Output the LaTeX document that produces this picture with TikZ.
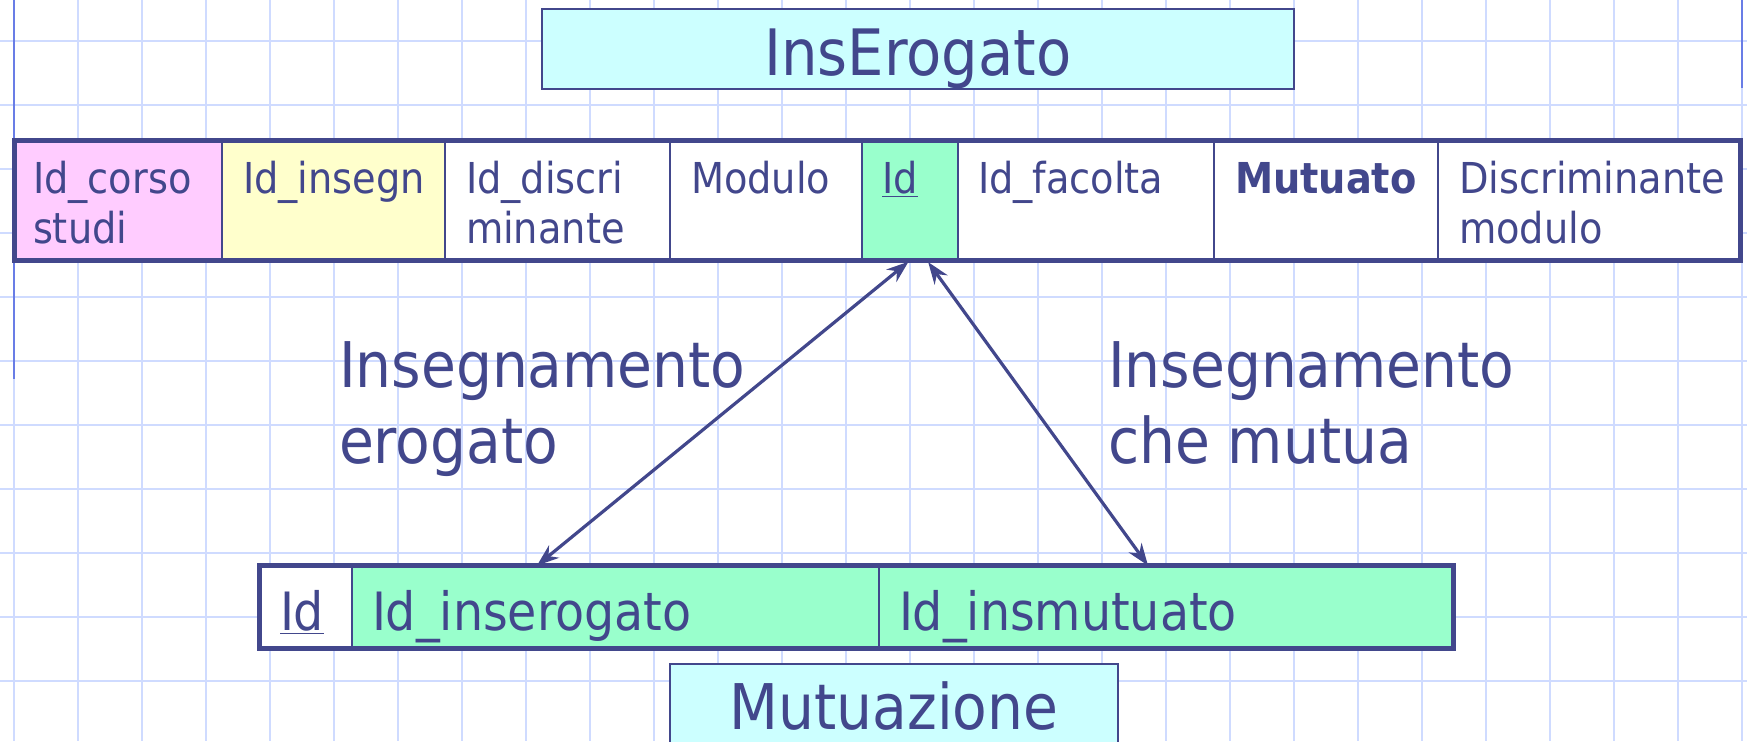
\documentclass[tikz,border=0pt]{standalone}
\usepackage{fontspec}
\setmainfont{DejaVu Sans Condensed}
\usetikzlibrary{fit,arrows.meta}
\definecolor{ink}{RGB}{66,71,140}
\definecolor{gridc}{RGB}{207,219,255}
\definecolor{edgeblue}{RGB}{105,125,230}
\definecolor{cyanfill}{RGB}{204,255,255}
\definecolor{pinkfill}{RGB}{255,204,255}
\definecolor{yellowfill}{RGB}{255,255,204}
\definecolor{greenfill}{RGB}{153,255,204}
\tikzset{
  gridline/.style={gridc, line width=1pt},
  edgeline/.style={edgeblue, line width=1pt},
  cellbox/.style={draw=ink, line width=1.25pt, inner sep=0pt, outer sep=0pt},
  outerbox/.style={draw=ink, line width=2.5pt, inner sep=0pt, outer sep=0pt},
  titlebox/.style={draw=ink, line width=1.25pt, fill=cyanfill, inner sep=0pt, outer sep=0pt},
  celltext/.style={text=ink, inner sep=0pt, outer sep=0pt, anchor=base west, align=left, font=\fontsize{21.3}{25}\selectfont},
  rowtext/.style={text=ink, inner sep=0pt, outer sep=0pt, anchor=base west, font=\fontsize{26.4}{30}\selectfont},
  titletext/.style={text=ink, inner sep=0pt, outer sep=0pt, anchor=base, font=\fontsize{32}{38}\selectfont},
  biglabel/.style={text=ink, inner sep=0pt, outer sep=0pt, anchor=base west, align=left, font=\fontsize{31.5}{38}\selectfont},
  conn/.style={draw=ink, line width=1.6pt, {Stealth[length=11pt,width=8pt]}-{Stealth[length=11pt,width=8pt]}}
}
\begin{document}
\begin{tikzpicture}[x=0.5pt,y=-0.5pt]
\useasboundingbox (0,0) rectangle (1747,741);
\clip (0,0) rectangle (1747,741);
\fill[white] (0,0) rectangle (1747,741);
% grid
\foreach \i in {0,...,27} \draw[gridline] ({14+64*\i},0) -- ({14+64*\i},741);
\foreach \j in {0,...,11} \draw[gridline] (0,{41+64*\j}) -- (1747,{41+64*\j});
\draw[edgeline] (14,0) -- (14,379);
\draw[edgeline] (1742,0) -- (1742,88);

% title box
\node[titlebox, fit={(542,9)(1294,89)}] (ins) {};
\node[titletext] (insT) at (918,75) {InsErogato};

% top table cells
\node[cellbox, fill=pinkfill,   fit={(14.5,140.5)(222,260.5)}] (c1) {};
\node[cellbox, fill=yellowfill, fit={(222,140.5)(445,260.5)}] (c2) {};
\node[cellbox, fill=white,      fit={(445,140.5)(670,260.5)}] (c3) {};
\node[cellbox, fill=white,      fit={(670,140.5)(862,260.5)}] (c4) {};
\node[cellbox, fill=greenfill,  fit={(862,140.5)(958,260.5)}] (c5) {};
\node[cellbox, fill=white,      fit={(958,140.5)(1214,260.5)}] (c6) {};
\node[cellbox, fill=white,      fit={(1214,140.5)(1438,260.5)}] (c7) {};
\node[cellbox, fill=white,      fit={(1438,140.5)(1740.5,260.5)}] (c8) {};
\node[outerbox, fit=(c1)(c8)] (tab1) {};

% (multi-line nodes: base anchor = baseline of last line)
\node[celltext] (t1) at (33,243)   {Id\_corso\\studi};
\node[celltext] (t2) at (243,193)  {Id\_insegn};
\node[celltext] (t3) at (466,243)  {Id\_discri\\minante};
\node[celltext] (t4) at (691,193)  {Modulo};
\node[celltext] (t5) at (882,193)  {\underline{Id}};
\node[celltext] (t6) at (978,193)  {Id\_facolta};
\node[celltext] (t7) at (1235,193) {\bfseries Mutuato};
\node[celltext] (t8) at (1459,243) {Discriminante\\modulo};

% bottom table
\node[cellbox, fill=white,     fit={(259.5,565.5)(352,648.5)}] (b1) {};
\node[cellbox, fill=greenfill, fit={(352,565.5)(879,648.5)}] (b2) {};
\node[cellbox, fill=greenfill, fit={(879,565.5)(1453,648.5)}] (b3) {};
\node[outerbox, fit=(b1)(b3)] (tab2) {};
\node[rowtext] (u1) at (280,630) {\underline{Id}};
\node[rowtext] (u2) at (372,630) {Id\_inserogato};
\node[rowtext] (u3) at (899,630) {Id\_insmutuato};

% Mutuazione box
\node[titlebox, fit={(670,664)(1118,770)}] (mut) {};
\node[titletext, font=\fontsize{31.5}{38}\selectfont] (mutT) at (894,729) {Mutuazione};

% labels
\node[biglabel] (la) at (339,463) {Insegnamento\\erogato};
\node[biglabel] (lb) at (1108,463) {Insegnamento\\che mutua};

% connectors
\draw[conn, shorten <=1pt] (c5.south) -- ([xshift=-39.25pt]b2.north);
\draw[conn, shorten <=1pt] ([xshift=8.5pt]c5.south) -- ([xshift=-9pt]b3.north);
\end{tikzpicture}
\end{document}
